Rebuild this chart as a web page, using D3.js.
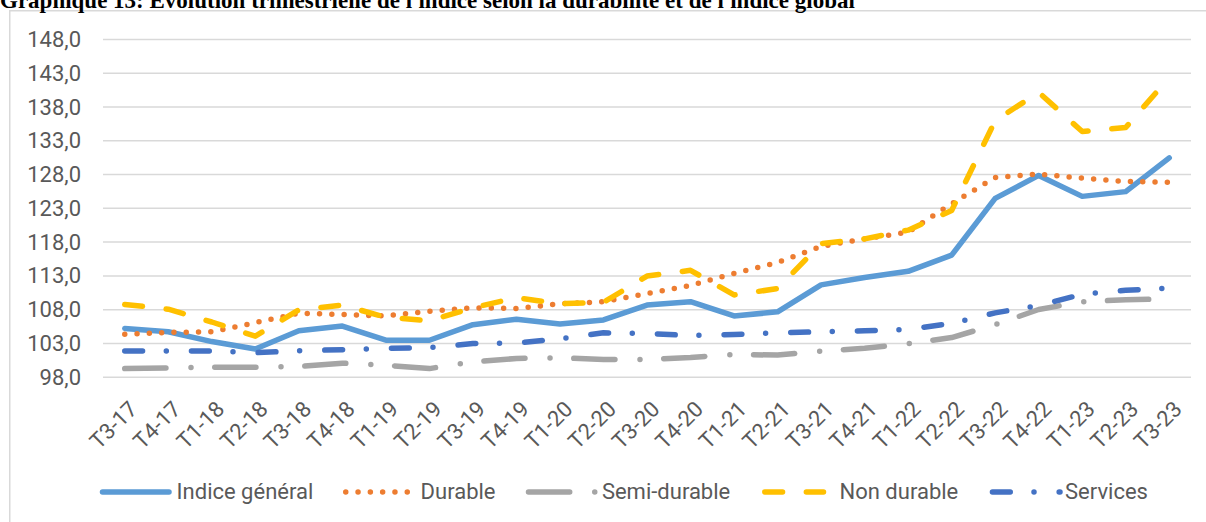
<!DOCTYPE html>
<html><head><meta charset="utf-8">
<script src="https://cdn.jsdelivr.net/npm/d3@7"></script>
<style>html,body{margin:0;padding:0;background:#fff;}svg{display:block;}</style>
</head><body>
<svg id="c" width="1206" height="522"></svg>
<script>
const categories = ["T3-17","T4-17","T1-18","T2-18","T3-18","T4-18","T1-19","T2-19","T3-19","T4-19","T1-20","T2-20","T3-20","T4-20","T1-21","T2-21","T3-21","T4-21","T1-22","T2-22","T3-22","T4-22","T1-23","T2-23","T3-23"];
const indiceGeneral = [105.15,104.65,103.2,102.1,104.8,105.5,103.4,103.4,105.7,106.5,105.8,106.4,108.6,109.1,107.0,107.6,111.6,112.7,113.6,116.0,124.4,127.8,124.7,125.4,130.4];
const durable = [104.3,104.55,104.65,106.0,107.4,107.2,107.0,107.7,108.2,108.1,108.8,109.1,110.3,111.5,113.3,114.9,117.3,118.4,119.4,123.6,127.5,128.0,127.4,126.9,126.8];
const semiDurable = [99.2,99.3,99.4,99.4,99.5,100.0,99.7,99.2,100.2,100.7,100.8,100.55,100.55,100.85,101.3,101.2,101.8,102.2,102.9,103.8,105.7,107.95,109.1,109.4,109.5];
const nonDurable = [108.7,108.0,106.1,104.0,107.9,108.6,106.8,106.3,108.2,109.7,108.8,109.0,112.9,113.75,110.1,111.05,117.7,118.4,119.7,122.6,135.9,140.1,134.3,134.9,142.3];
const services = [101.8,101.8,101.8,101.55,101.85,102.0,102.2,102.3,102.9,103.0,103.6,104.5,104.4,104.1,104.25,104.5,104.65,104.8,105.0,105.9,107.45,108.55,110.2,110.8,111.1];
const yTicks = [98,103,108,113,118,123,128,133,138,143,148];
const seriesNames = ["Indice général","Durable","Semi-durable","Non durable","Services"];
const titleText = "Graphique 13: Évolution trimestrielle de l'indice selon la durabilité et de l'indice global";

const series = [
  {name: seriesNames[0], values: indiceGeneral, color: "#5B9BD5", dash: null},
  {name: seriesNames[1], values: durable, color: "#ED7D31", dash: "0 12.3"},
  {name: seriesNames[2], values: semiDurable, color: "#A5A5A5", dash: "41.2 25.05 0 23.75"},
  {name: seriesNames[3], values: nonDurable, color: "#FFC000", dash: "17.8 23.8"},
  {name: seriesNames[4], values: services, color: "#4472C4", dash: "17.8 23.75 0 25.15"}
];

const svg = d3.select("#c");
const font = "Roboto, 'Noto Sans', sans-serif";
const txt = "#595959";

svg.append("rect").attr("x",0).attr("y",0).attr("width",1206).attr("height",522).attr("fill","#fff");
// chart frame
svg.append("rect").attr("x",9.75).attr("y",10.75).attr("width",1210).attr("height",530)
  .attr("fill","none").attr("stroke","#D9D9D9").attr("stroke-width",1.5);
// title (partially cut at top, as in the reference)
svg.append("text").attr("x",0).attr("y",8).text(titleText)
  .attr("font-family","'Liberation Serif', 'Times New Roman', serif").attr("font-weight","bold")
  .attr("font-size",23).attr("fill","#000");

const L = 103, R = 1191, T = 39, B = 376.7;
const x = d3.scalePoint().domain(categories).range([L, R]).padding(0.5);
const y = d3.scaleLinear().domain([98,148]).range([B, T]);

// y axis with gridlines
const yAxis = d3.axisLeft(y).tickValues(yTicks)
  .tickFormat(d => d.toFixed(1).replace(".", ","))
  .tickSizeInner(-(R - L)).tickSizeOuter(0).tickPadding(22);
const gy = svg.append("g").attr("transform", `translate(${L},0)`).call(yAxis);
gy.select(".domain").remove();
gy.selectAll(".tick line").attr("stroke","#D9D9D9").attr("stroke-width",1.5);
gy.selectAll(".tick text").attr("font-family",font).attr("font-size",22).attr("fill",txt).attr("dy","0.34em");

// x labels rotated
svg.append("g").selectAll("text").data(categories).join("text")
  .attr("transform", d => `translate(${x(d)+8.5},405) rotate(-45)`)
  .attr("text-anchor","end").attr("dy","0.35em")
  .attr("font-family",font).attr("font-size",22).attr("fill",txt)
  .text(d => d);

// lines
const line = d3.line().x((d,i) => x(categories[i])).y(d => y(d));
series.forEach(s => {
  const p = svg.append("path").datum(s.values).attr("d", line)
    .attr("fill","none").attr("stroke", s.color).attr("stroke-width",5.5)
    .attr("stroke-linecap","round").attr("stroke-linejoin","round");
  if (s.dash) p.attr("stroke-dasharray", s.dash);
});

// legend
const legendY = 492;
const legendItems = [
  {x1:102.5, x2:169, tx:176.6},
  {x1:345.75, x2:408, tx:420.6},
  {x1:528.5, x2:595, tx:601.9},
  {x1:764.75, x2:823.5, tx:839.5},
  {x1:992.45, x2:1060, tx:1065}
];
const lg = svg.append("g");
series.forEach((s, i) => {
  const it = legendItems[i];
  const l = lg.append("line").attr("x1",it.x1).attr("x2",it.x2).attr("y1",legendY).attr("y2",legendY)
    .attr("stroke",s.color).attr("stroke-width",5.5).attr("stroke-linecap","round");
  if (s.dash) l.attr("stroke-dasharray", s.dash);
  lg.append("text").attr("x",it.tx).attr("y",legendY).attr("dy","0.34em")
    .attr("font-family",font).attr("font-size",22).attr("fill",txt).text(s.name);
});
</script>
</body></html>
